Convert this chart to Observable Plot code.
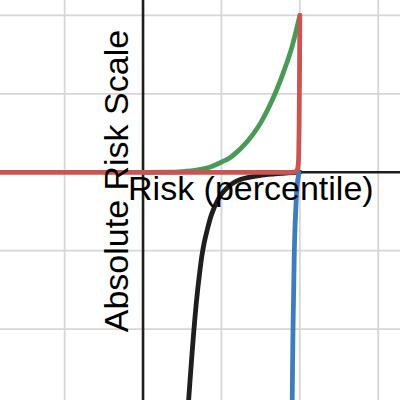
<!DOCTYPE html>
<html>
<head>
<meta charset="utf-8">
<script src="https://cdn.jsdelivr.net/npm/d3@7"></script>
<script src="https://cdn.jsdelivr.net/npm/@observablehq/plot@0.6"></script>
<style>
  html, body { margin: 0; padding: 0; background: #fff; overflow: hidden; }
  #chart svg { display: block; }
</style>
</head>
<body>
<div id="chart"></div>
<script>
// Axis ranges (in grid units) and grid tick values
const xDomain = [-1.818, 3.284];
const yDomain = [-2.911, 2.191];
const gridXTicks = [-1, 1, 2, 3];
const gridYTicks = [-2, -1, 1, 2];

// Labels
const xLabel = "Risk (percentile)";
const yLabel = "Absolute Risk Scale";

// Green curve
const greenX = [0, 0.3, 0.5, 0.7, 0.85, 1.0, 1.1, 1.2, 1.3, 1.4, 1.5, 1.6, 1.7, 1.8, 1.9, 2.0];
const greenY = [0, 0.001, 0.008, 0.03, 0.065, 0.13, 0.18, 0.26, 0.36, 0.48, 0.63, 0.82, 1.04, 1.3, 1.6, 2.0];

// Red curve
const redX = [-1.82, 1.9, 1.95, 1.97, 1.98, 1.985, 1.99, 1.995, 2.0];
const redY = [0, 0, 0.01, 0.04, 0.1, 0.2, 0.5, 1.1, 2.0];

// Black curve
const blackX = [0.575, 0.6, 0.62, 0.64, 0.66, 0.68, 0.7, 0.72, 0.75, 0.78, 0.82, 0.86, 0.9, 0.95, 1.0, 1.08, 1.16, 1.25, 1.35, 1.46, 1.6, 1.76, 1.9, 2.0];
const blackY = [-3.0, -2.65, -2.38, -2.12, -1.88, -1.66, -1.47, -1.3, -1.07, -0.9, -0.73, -0.58, -0.47, -0.36, -0.28, -0.19, -0.13, -0.09, -0.065, -0.045, -0.028, -0.015, -0.005, 0];

// Blue curve
const blueY = [0, -0.06, -0.15, -0.36, -0.81, -1.4, -2.0, -2.5, -3.0];
const blueX = [1.99, 1.98, 1.967, 1.954, 1.935, 1.923, 1.913, 1.907, 1.902];

const zip = (xs, ys) => xs.map((x, i) => ({x, y: ys[i]}));
const green = zip(greenX, greenY);
const red = zip(redX, redY);
const black = zip(blackX, blackY);
const blue = zip(blueX, blueY);

const lineStyle = {strokeWidth: 4.8, strokeLinecap: "round", strokeLinejoin: "round", clip: true};

const chart = Plot.plot({
  width: 400,
  height: 400,
  margin: 0,
  x: {domain: xDomain, axis: null},
  y: {domain: yDomain, axis: null},
  style: {background: "#fff", fontFamily: "'Liberation Sans', Arial, sans-serif"},
  marks: [
    Plot.gridX(gridXTicks, {stroke: "#d6d6d6", strokeOpacity: 1, strokeWidth: 1.8}),
    Plot.gridY(gridYTicks, {stroke: "#d6d6d6", strokeOpacity: 1, strokeWidth: 1.8}),
    Plot.ruleX([0], {stroke: "#1e1e1e", strokeWidth: 2.6}),
    Plot.ruleY([0], {stroke: "#1e1e1e", strokeWidth: 2.6}),
    Plot.line(black, {x: "x", y: "y", stroke: "#1e1e1e", curve: "monotone-x", ...lineStyle}),
    Plot.line(blue, {x: "x", y: "y", stroke: "#3d7dbf", curve: "monotone-y", ...lineStyle}),
    Plot.line(green, {x: "x", y: "y", stroke: "#4a9a57", curve: "monotone-x", ...lineStyle}),
    Plot.line(red, {x: "x", y: "y", stroke: "#cc5450", curve: "monotone-x", ...lineStyle}),
    Plot.text([xLabel], {x: 0, y: 0, text: d => d, textAnchor: "start", lineAnchor: "bottom",
      dx: -15, dy: 28, fontSize: 34, fill: "#000"}),
    Plot.text([yLabel], {x: 0, y: 0, text: d => d, textAnchor: "start", lineAnchor: "bottom",
      rotate: -90, dx: -15.5, dy: 160, fontSize: 34, fill: "#000"})
  ]
});
document.getElementById("chart").appendChild(chart);
</script>
</body>
</html>
